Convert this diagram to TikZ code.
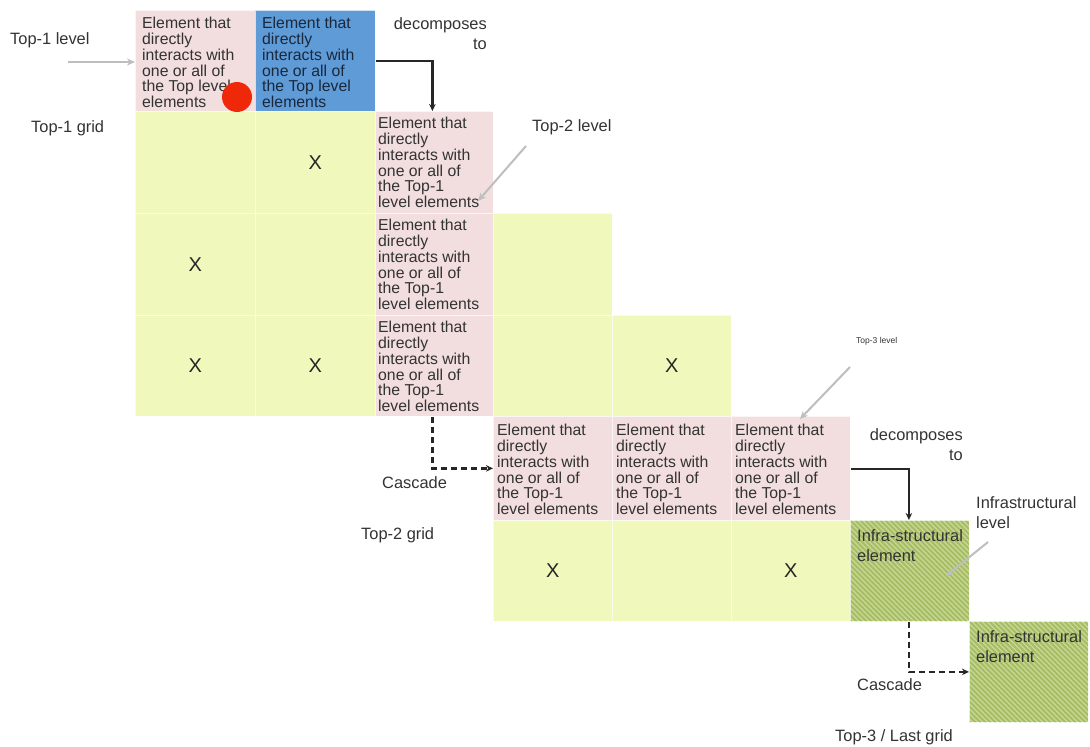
\documentclass[tikz,border=0pt]{standalone}
\usepackage{fontspec}
\setmainfont{Liberation Sans}
\usetikzlibrary{arrows.meta}
\definecolor{pinkc}{RGB}{242,222,222}
\definecolor{greenc}{RGB}{240,248,188}
\definecolor{bluec}{RGB}{95,155,215}
\definecolor{hatchbase}{RGB}{200,216,148}
\definecolor{hatchln}{RGB}{152,178,82}
\definecolor{txt}{RGB}{51,51,51}
\definecolor{bluetxt}{RGB}{25,40,60}
\definecolor{grayarrow}{RGB}{190,190,190}
\definecolor{reddot}{RGB}{240,40,10}
\begin{document}
\begin{tikzpicture}[x=1pt,y=-1pt,
  cell/.style={rectangle, anchor=north west, inner sep=0, draw=white, draw opacity=0.7, line width=0.8pt},
  pinkcell/.style={cell, fill=pinkc},
  greencell/.style={cell, fill=greenc},
  bluecell/.style={cell, fill=bluec},
  hatchcell/.style={cell, fill=hatchbase, path picture={
      \foreach \k in {-130,-125,...,130}{
        \draw[hatchln, line width=1.8pt] ([xshift=\k pt]path picture bounding box.north west) -- ++(130pt,-130pt);}}},
  celltext/.style={anchor=north west, inner sep=0, align=left, text=txt, font=\fontsize{15.8}{15.8}\selectfont},
  xmk/.style={inner sep=0, text=black!85, font=\fontsize{20}{20}\selectfont},
  lbl/.style={inner sep=0, text=txt, font=\fontsize{16.4}{20}\selectfont},
  grayarr/.style={draw=grayarrow, line width=2pt, -{Stealth[length=8pt,width=7pt]}},
  decarr/.style={draw=black!85, line width=2.2pt, -{Stealth[length=7pt,width=6.5pt]}},
  casc/.style={draw=black!85, line width=2.2pt, dash pattern=on 6pt off 4pt, -{Stealth[length=7pt,width=6.5pt]}},
]
\fill[white] (0,0) rectangle (1090,747);
\useasboundingbox (0,0) rectangle (1090,747);

% ---- Row 0 (Top-1 level)
\node[pinkcell, minimum width=120pt, minimum height=101pt] (a0) at (135,10) {};
\node[bluecell, minimum width=120pt, minimum height=101pt] (b0) at (255,10) {};
% ---- Row 1
\node[greencell, minimum width=120pt, minimum height=102pt] (a1) at (135,111) {};
\node[greencell, minimum width=120pt, minimum height=102pt] (b1) at (255,111) {};
\node[pinkcell, minimum width=118pt, minimum height=102pt] (c1) at (375,111) {};
% ---- Row 2
\node[greencell, minimum width=120pt, minimum height=102pt] (a2) at (135,213) {};
\node[greencell, minimum width=120pt, minimum height=102pt] (b2) at (255,213) {};
\node[pinkcell, minimum width=118pt, minimum height=102pt] (c2) at (375,213) {};
\node[greencell, minimum width=119pt, minimum height=102pt] (d2) at (493,213) {};
% ---- Row 3
\node[greencell, minimum width=120pt, minimum height=101pt] (a3) at (135,315) {};
\node[greencell, minimum width=120pt, minimum height=101pt] (b3) at (255,315) {};
\node[pinkcell, minimum width=118pt, minimum height=101pt] (c3) at (375,315) {};
\node[greencell, minimum width=119pt, minimum height=101pt] (d3) at (493,315) {};
\node[greencell, minimum width=119pt, minimum height=101pt] (e3) at (612,315) {};
% ---- Row 4 (Top-2 level)
\node[pinkcell, minimum width=119pt, minimum height=104pt] (d4) at (493,416) {};
\node[pinkcell, minimum width=119pt, minimum height=104pt] (e4) at (612,416) {};
\node[pinkcell, minimum width=119pt, minimum height=104pt] (f4) at (731,416) {};
% ---- Row 5
\node[greencell, minimum width=119pt, minimum height=101pt] (d5) at (493,520) {};
\node[greencell, minimum width=119pt, minimum height=101pt] (e5) at (612,520) {};
\node[greencell, minimum width=119pt, minimum height=101pt] (f5) at (731,520) {};
\node[hatchcell, minimum width=119pt, minimum height=101pt] (g5) at (850,520) {};
% ---- Row 6
\node[hatchcell, minimum width=119pt, minimum height=101pt] (h6) at (969,621) {};

% ---- cell texts
\node[celltext] (ta0) at ([xshift=7pt,yshift=-7pt]a0.north west) {Element that\\directly\\interacts with\\one or all of\\the Top level\\elements};
\node[celltext, text=bluetxt] (tb0) at ([xshift=7pt,yshift=-7pt]b0.north west) {Element that\\directly\\interacts with\\one or all of\\the Top level\\elements};
\node[celltext] (tc1) at ([xshift=3pt,yshift=-6pt]c1.north west) {Element that\\directly\\interacts with\\one or all of\\the Top-1\\level elements};
\node[celltext] (tc2) at ([xshift=3pt,yshift=-6pt]c2.north west) {Element that\\directly\\interacts with\\one or all of\\the Top-1\\level elements};
\node[celltext] (tc3) at ([xshift=3pt,yshift=-6pt]c3.north west) {Element that\\directly\\interacts with\\one or all of\\the Top-1\\level elements};
\node[celltext] (td4) at ([xshift=4pt,yshift=-8pt]d4.north west) {Element that\\directly\\interacts with\\one or all of\\the Top-1\\level elements};
\node[celltext] (te4) at ([xshift=4pt,yshift=-8pt]e4.north west) {Element that\\directly\\interacts with\\one or all of\\the Top-1\\level elements};
\node[celltext] (tf4) at ([xshift=4pt,yshift=-8pt]f4.north west) {Element that\\directly\\interacts with\\one or all of\\the Top-1\\level elements};
\node[celltext, font=\fontsize{16.4}{20}\selectfont] (tg5) at ([xshift=7pt,yshift=-9pt]g5.north west) {Infra-structural\\element};
\node[celltext, font=\fontsize{16.4}{20}\selectfont] (th6) at ([xshift=7pt,yshift=-9pt]h6.north west) {Infra-structural\\element};

% ---- red dot
\fill[reddot] (237,97) circle[radius=15];

% ---- X marks
\node[xmk] (x1) at (b1) {X};
\node[xmk] (x2) at (a2) {X};
\node[xmk] (x3) at (a3) {X};
\node[xmk] (x4) at (b3) {X};
\node[xmk] (x5) at (e3) {X};
\node[xmk] (x6) at (d5) {X};
\node[xmk] (x7) at (f5) {X};

% ---- labels
\node[lbl, anchor=west] (lt1) at (10,40) {Top-1 level};
\node[lbl, anchor=west] (lg1) at (31,128) {Top-1 grid};
\node[lbl, anchor=north east, align=right] (ld1) at (487,17) {decomposes\\to};
\node[lbl, anchor=west] (lt2) at (532,127) {Top-2 level};
\node[lbl, anchor=west, font=\fontsize{8.5}{10}\selectfont] (lt3) at (856,341) {Top-3 level};
\node[lbl, anchor=west] (lc1) at (382,483) {Cascade};
\node[lbl, anchor=north east, align=right] (ld2) at (963,428) {decomposes\\to};
\node[lbl, anchor=north west, align=left] (lin) at (976,496) {Infrastructural\\level};
\node[lbl, anchor=west] (lg2) at (361,535) {Top-2 grid};
\node[lbl, anchor=west] (lc2) at (857,685) {Cascade};
\node[lbl, anchor=west] (lg3) at (835,737) {Top-3 / Last grid};

% ---- gray pointer arrows
\coordinate (p1s) at (68,62);
\draw[grayarr] (p1s) -- (a0.west |- p1s);
\coordinate (p2s) at (526,146);
\coordinate (p2e) at (478,201);
\draw[grayarr] (p2s) -- (p2e);
\coordinate (p3s) at (850,367);
\coordinate (p3e) at (800,419);
\draw[grayarr] (p3s) -- (p3e);
\coordinate (p4s) at (988,542);
\coordinate (p4e) at (946,576);
\draw[grayarr] (p4s) -- (p4e);

% ---- decomposes arrows
\draw[decarr] (b0.east |- 0,61) -| ([xshift=-2pt]c1.north);
\draw[decarr] (f4.east |- 0,469) -| ([xshift=-1pt]g5.north);

% ---- cascade arrows
\draw[casc] ([xshift=-2pt]c3.south) |- (d4.west);
\draw[casc] ([xshift=-1pt]g5.south) |- (h6.west);
\end{tikzpicture}
\end{document}
